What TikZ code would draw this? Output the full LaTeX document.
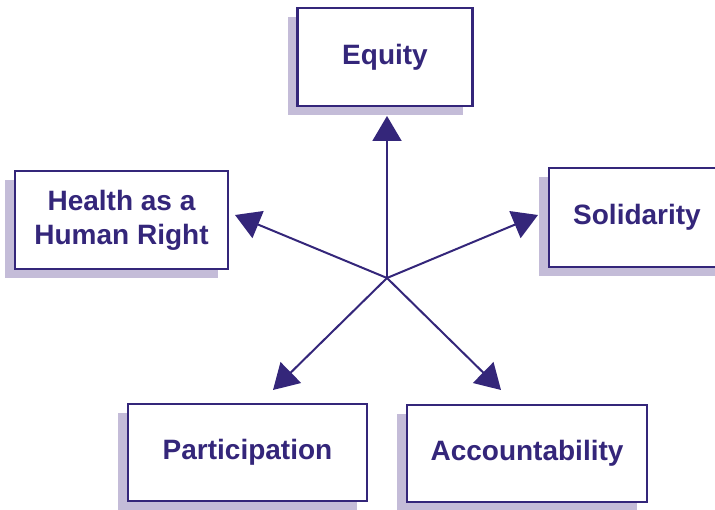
\documentclass[tikz,border=0pt]{standalone}
\usepackage{fontspec}
\setmainfont{Liberation Sans}
\usetikzlibrary{arrows.meta,shadows}
\definecolor{pur}{RGB}{52,38,122}
\definecolor{shad}{RGB}{196,188,216}
\begin{document}
\begin{tikzpicture}[x=1pt,y=-1pt,
  box/.style={draw=pur, line width=2.5pt, fill=white, inner sep=0pt,
    text=pur, font=\fontsize{28}{34}\selectfont\bfseries, align=center,
    general shadow={fill=shad, draw=none, shadow xshift=-10pt, shadow yshift=-9pt}},
  arr/.style={draw=pur, line width=2pt, -{Triangle[length=25pt,width=29pt]}}]
\useasboundingbox (0,0) rectangle (715,510);
\clip (0,0) rectangle (715,510);
\node[box, minimum width=175pt, minimum height=98pt] (equity) at (385,57) {Equity};
\node[box, minimum width=213pt, minimum height=98pt] (health) at (121.5,220) {Health as a\\Human Right};
\node[box, minimum width=176pt, minimum height=99pt] (solid) at (637,217.5) {Solidarity};
\node[box, minimum width=239pt, minimum height=97pt] (part) at (247.5,452.5) {Participation};
\node[box, minimum width=240pt, minimum height=97pt] (acc) at (527,453.5) {Accountability};
\coordinate (c) at (387,278);
\coordinate (tE) at (387,116);
\coordinate (tH) at (235,215);
\coordinate (tS) at (538,215);
\coordinate (tP) at (273,390);
\coordinate (tA) at (501,390);
\draw[arr] (c) -- (tE);
\draw[arr] (c) -- (tH);
\draw[arr] (c) -- (tS);
\draw[arr] (c) -- (tP);
\draw[arr] (c) -- (tA);
\end{tikzpicture}
\end{document}
